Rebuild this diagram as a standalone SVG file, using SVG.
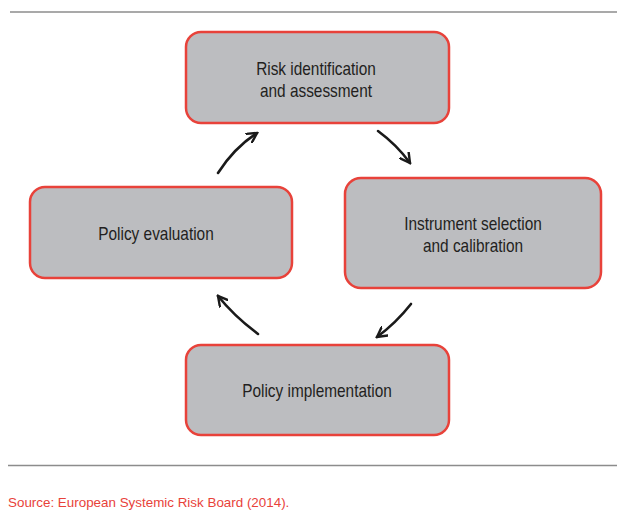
<svg xmlns="http://www.w3.org/2000/svg" width="617" height="511" viewBox="0 0 617 511">
  <style>
    .box { fill: #bcbdc0; stroke: #e8423a; stroke-width: 2.5; }
    .lbl { font-family: "Liberation Sans Narrow", "Liberation Sans", Arial, sans-serif; font-size: 17.5px; fill: #231f20; text-anchor: middle; }
    .rule { stroke: #8c8c8c; stroke-width: 1.4; }
    .arrow { fill: none; stroke: #1a1a1a; stroke-width: 2.6; stroke-linecap: round; marker-end: url(#head); }
    .src { font-family: "Liberation Sans", Arial, sans-serif; font-size: 13.4px; fill: #e8423a; }
  </style>
  <defs>
    <marker id="head" viewBox="0 0 12 12" refX="10" refY="6" markerWidth="12" markerHeight="12" markerUnits="userSpaceOnUse" orient="auto">
      <path d="M0.5,0.8 L10,6 L0.5,11.2" fill="none" stroke="#1a1a1a" stroke-width="2.4" stroke-linecap="round" stroke-linejoin="miter"/>
    </marker>
  </defs>
  <rect width="617" height="511" fill="#ffffff"/>

  <line class="rule" x1="10" y1="12" x2="617" y2="12"/>
  <line class="rule" x1="8" y1="465.5" x2="617" y2="465.5"/>

  <g id="risk-identification">
    <rect class="box" x="186" y="32" width="263" height="91" rx="15"/>
    <text class="lbl" x="316" y="75" transform="translate(316 0) scale(0.88 1) translate(-316 0)">Risk identification</text>
    <text class="lbl" x="316" y="97" transform="translate(316 0) scale(0.88 1) translate(-316 0)">and assessment</text>
  </g>

  <g id="instrument-selection">
    <rect class="box" x="345" y="178" width="256" height="110" rx="16"/>
    <text class="lbl" x="473" y="230" transform="translate(473 0) scale(0.88 1) translate(-473 0)">Instrument selection</text>
    <text class="lbl" x="473" y="252" transform="translate(473 0) scale(0.88 1) translate(-473 0)">and calibration</text>
  </g>

  <g id="policy-evaluation">
    <rect class="box" x="30" y="187" width="262" height="91" rx="15"/>
    <text class="lbl" x="156" y="240" transform="translate(156 0) scale(0.88 1) translate(-156 0)">Policy evaluation</text>
  </g>

  <g id="policy-implementation">
    <rect class="box" x="186" y="345" width="263" height="90" rx="15"/>
    <text class="lbl" x="317" y="397" transform="translate(317 0) scale(0.88 1) translate(-317 0)">Policy implementation</text>
  </g>

  <g id="connectors">
    <path class="arrow" d="M218,173 Q234,148 257,133"/>
    <path class="arrow" d="M378,131 Q397,145 410,163"/>
    <path class="arrow" d="M411,304 Q396,323 377,337"/>
    <path class="arrow" d="M258,334 Q234,316 218,296"/>
  </g>

  <text class="src" x="8" y="507">Source: European Systemic Risk Board (2014).</text>
</svg>
